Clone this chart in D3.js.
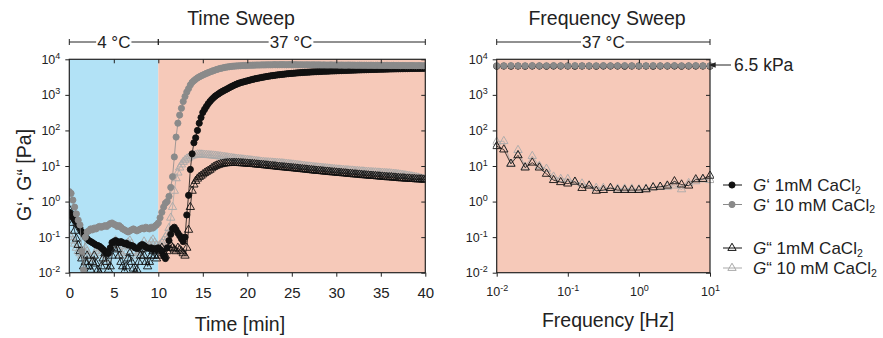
<!DOCTYPE html>
<html>
<head>
<meta charset="utf-8">
<script src="https://cdn.jsdelivr.net/npm/d3@7"></script>
<style>
  body { margin: 0; background: #fff; }
  svg { font-family: "Liberation Sans", Arial, Helvetica, sans-serif; }
</style>
</head>
<body>
<div id="chart"></div>
<script>
// ---- data: time sweep, one sample every 0.2 min from 0 to 40 min
const timeStep = 0.2;
const gp1mM = [
  0.5, 0.42, 0.35, 0.3, 0.26, 0.22, 0.18, 0.14, 0.12, 0.1,
  0.09, 0.08, 0.075, 0.07, 0.065, 0.06, 0.058, 0.055, 0.05, 0.045,
  0.04, 0.035, 0.035, 0.05, 0.07, 0.075, 0.08, 0.075, 0.07, 0.075,
  0.07, 0.065, 0.068, 0.06, 0.06, 0.058, 0.055, 0.05, 0.048, 0.05,
  0.058, 0.062, 0.058, 0.052, 0.05, 0.048, 0.05, 0.045, 0.048, 0.045,
  0.05, 0.045, 0.04, 0.03, 0.025, 0.05, 0.08, 0.12, 0.17, 0.19,
  0.16, 0.13, 0.11, 0.09, 0.075, 0.1, 0.42, 1.5, 8, 22,
  45, 62, 100, 160, 230, 320, 390, 470, 560, 650,
  740, 830, 920, 1000, 1080, 1170, 1250, 1330, 1410, 1500,
  1600, 1700, 1800, 1900, 2000, 2100, 2180, 2260, 2330, 2400,
  2480, 2560, 2640, 2720, 2800, 2870, 2940, 3010, 3080, 3150,
  3220, 3290, 3350, 3410, 3470, 3530, 3590, 3640, 3690, 3740,
  3790, 3840, 3890, 3940, 3980, 4020, 4060, 4100, 4140, 4180,
  4220, 4260, 4290, 4320, 4350, 4380, 4410, 4440, 4470, 4500,
  4530, 4560, 4590, 4610, 4630, 4650, 4670, 4690, 4710, 4730,
  4750, 4780, 4800, 4820, 4850, 4870, 4890, 4910, 4930, 4950,
  4970, 4990, 5010, 5030, 5050, 5070, 5090, 5110, 5130, 5150,
  5170, 5190, 5200, 5220, 5240, 5260, 5270, 5290, 5310, 5320,
  5340, 5350, 5370, 5380, 5400, 5410, 5430, 5440, 5450, 5470,
  5480, 5490, 5500, 5520, 5530, 5540, 5550, 5560, 5570, 5580,
  5600
];
const gp10mM = [
  1.9, 1.7, 1.1, 0.7, 0.45, 0.3, 0.22, 0.04, 0.012, 0.1,
  0.14, 0.15, 0.17, 0.16, 0.18, 0.17, 0.19, 0.2, 0.19, 0.2,
  0.21, 0.2, 0.22, 0.24, 0.25, 0.23, 0.22, 0.2, 0.21, 0.19,
  0.17, 0.16, 0.15, 0.14, 0.15, 0.16, 0.17, 0.16, 0.15, 0.16,
  0.17, 0.18, 0.17, 0.19, 0.18, 0.17, 0.19, 0.18, 0.2, 0.22,
  0.25, 0.35, 0.5, 0.7, 0.9, 1.0, 1.4, 2.5, 5, 18,
  65, 160, 270, 420, 650, 900, 1200, 1500, 1900, 2250,
  2500, 2750, 3000, 3200, 3400, 3600, 3800, 4000, 4200, 4400,
  4600, 4800, 5000, 5200, 5400, 5550, 5700, 5850, 6000, 6100,
  6200, 6300, 6400, 6450, 6500, 6550, 6600, 6650, 6700, 6700,
  6750, 6800, 6800, 6850, 6850, 6900, 6900, 6900, 6950, 6950,
  6950, 7000, 7000, 7000, 7000, 7050, 7050, 7000, 7050, 7050,
  7050, 7050, 7000, 7050, 7050, 7000, 7000, 7050, 7000, 7000,
  7000, 7000, 6950, 7000, 7000, 6950, 6950, 7000, 6950, 6950,
  6950, 6950, 6900, 6950, 6900, 6900, 6900, 6950, 6900, 6900,
  6900, 6900, 6850, 6900, 6850, 6850, 6850, 6900, 6850, 6850,
  6850, 6800, 6800, 6850, 6800, 6800, 6800, 6800, 6750, 6800,
  6800, 6750, 6750, 6800, 6750, 6750, 6750, 6700, 6750, 6750,
  6700, 6700, 6750, 6700, 6700, 6700, 6650, 6700, 6700, 6650,
  6650, 6650, 6700, 6650, 6650, 6600, 6650, 6650, 6600, 6600,
  6600
];
const gpp1mM = [
  0.6, 0.4, 0.25, 0.15, 0.09, 0.06, 0.04, 0.025, 0.015, 0.02,
  0.03, 0.015, 0.012, 0.02, 0.03, 0.018, 0.012, 0.01, 0.015, 0.025,
  0.035, 0.02, 0.012, 0.015, 0.03, 0.05, 0.07, 0.045, 0.03, 0.02,
  0.015, 0.011, 0.015, 0.025, 0.035, 0.02, 0.013, 0.01, 0.012, 0.02,
  0.03, 0.045, 0.03, 0.02, 0.015, 0.02, 0.03, 0.04, 0.03, 0.025,
  0.03, 0.04, 0.05, 0.035, 0.03, 0.04, 0.05, 0.06, 0.05, 0.045,
  0.04, 0.05, 0.045, 0.04, 0.035, 0.03, 0.05, 0.16, 0.7, 2.0,
  3.0, 3.8, 4.4, 4.9, 5.3, 5.8, 6.3, 6.8, 7.3, 7.8,
  8.6, 9.3, 9.9, 10.4, 10.8, 11.2, 11.5, 11.7, 11.9, 12.0,
  12.1, 12.1, 12.2, 12.2, 12.1, 12.1, 12.0, 11.9, 11.8, 11.7,
  11.6, 11.5, 11.4, 11.3, 11.2, 11.0, 10.9, 10.8, 10.7, 10.6,
  10.4, 10.3, 10.2, 10.0, 9.9, 9.8, 9.7, 9.5, 9.4, 9.3,
  9.2, 9.1, 9.0, 8.9, 8.8, 8.7, 8.6, 8.5, 8.4, 8.3,
  8.2, 8.1, 8.0, 7.9, 7.8, 7.7, 7.6, 7.5, 7.4, 7.3,
  7.3, 7.2, 7.1, 7.0, 6.9, 6.9, 6.8, 6.7, 6.6, 6.6,
  6.5, 6.4, 6.4, 6.3, 6.2, 6.2, 6.1, 6.0, 6.0, 5.9,
  5.8, 5.8, 5.7, 5.7, 5.6, 5.5, 5.5, 5.4, 5.4, 5.3,
  5.3, 5.2, 5.2, 5.1, 5.1, 5.0, 5.0, 4.9, 4.9, 4.8,
  4.8, 4.8, 4.7, 4.7, 4.6, 4.6, 4.5, 4.5, 4.5, 4.4,
  4.4, 4.4, 4.3, 4.3, 4.3, 4.2, 4.2, 4.2, 4.2, 4.1,
  4.1
];
const gpp10mM = [
  0.12, 0.1, 0.08, 0.065, 0.05, 0.04, 0.035, 0.03, 0.04, 0.05,
  0.04, 0.03, 0.025, 0.02, 0.03, 0.04, 0.05, 0.045, 0.035, 0.025,
  0.02, 0.025, 0.035, 0.05, 0.06, 0.07, 0.08, 0.06, 0.045, 0.035,
  0.03, 0.04, 0.055, 0.07, 0.08, 0.065, 0.05, 0.04, 0.03, 0.035,
  0.045, 0.06, 0.075, 0.06, 0.05, 0.06, 0.075, 0.085, 0.07, 0.06,
  0.055, 0.06, 0.07, 0.08, 0.1, 0.12, 0.18, 0.35, 0.7, 2.0,
  4.5, 6.5, 9.0, 11, 13, 14.5, 16, 17, 18.5, 19.5,
  20, 20.5, 21, 21, 21, 20.8, 20.6, 20.4, 20.2, 20,
  19.8, 19.6, 19.4, 19.1, 18.8, 18.5, 18.2, 17.9, 17.6, 17.3,
  17.0, 16.7, 16.4, 16.1, 15.9, 15.7, 15.5, 15.3, 15.1, 14.9,
  14.7, 14.5, 14.3, 14.1, 13.9, 13.7, 13.5, 13.3, 13.1, 12.9,
  12.8, 12.7, 12.6, 12.5, 12.4, 12.3, 12.2, 12.1, 12.0, 11.9,
  11.8, 11.6, 11.5, 11.3, 11.2, 11.0, 10.9, 10.7, 10.6, 10.4,
  10.3, 10.1, 10.0, 9.8, 9.7, 9.6, 9.5, 9.3, 9.2, 9.1,
  9.0, 8.9, 8.8, 8.7, 8.6, 8.5, 8.4, 8.3, 8.2, 8.1,
  8.0, 7.9, 7.9, 7.8, 7.7, 7.6, 7.6, 7.5, 7.4, 7.4,
  7.3, 7.2, 7.2, 7.1, 7.0, 7.0, 6.9, 6.8, 6.8, 6.7,
  6.7, 6.6, 6.6, 6.5, 6.5, 6.4, 6.4, 6.3, 6.3, 6.2,
  6.2, 6.1, 6.0, 6.0, 5.9, 5.8, 5.7, 5.6, 5.5, 5.4,
  5.3, 5.2, 5.1, 5.0, 4.9, 4.8, 4.7, 4.5, 4.4, 4.3,
  4.2
];

// ---- data: frequency sweep, 10 points per decade from 0.01 to 10 Hz
const freqHz = d3.range(31).map(i => Math.pow(10, -2 + i / 10));
const fGp1mM = [
  6400, 6450, 6400, 6450, 6400, 6450, 6450, 6400, 6450, 6450,
  6450, 6400, 6450, 6450, 6400, 6450, 6450, 6450, 6400, 6450,
  6450, 6450, 6400, 6450, 6450, 6450, 6400, 6450, 6450, 6450, 6400
];
const fGp10mM = [
  6600, 6600, 6650, 6600, 6600, 6650, 6600, 6600, 6650, 6600,
  6600, 6650, 6600, 6600, 6600, 6650, 6600, 6600, 6650, 6600,
  6600, 6600, 6650, 6600, 6600, 6650, 6600, 6600, 6650, 6600, 6600
];
const fGpp1mM = [
  36, 29, 11.5, 20, 9, 12.4, 9, 6, 4, 3.5,
  3.2, 3.6, 2.4, 2.8, 2.0, 2.1, 2.4, 2.1, 2.1, 2.1,
  2.1, 2.2, 2.5, 2.6, 2.8, 3.7, 3.0, 2.8, 4.2, 4.3, 5.3
];
const fGpp10mM = [
  48, 50, 11.5, 28, 9.5, 19, 10, 8.3, 5, 4.3,
  4.3, 3.6, 3.2, 2.8, 2.4, 2.4, 2.4, 2.3, 2.3, 2.3,
  2.2, 2.3, 2.5, 2.6, 2.6, 2.8, 2.2, 3.3, 3.7, 4.2, 4.0
];

const timeTicks = [0, 5, 10, 15, 20, 25, 30, 35, 40];
const decadeTicks = [1e-2, 1e-1, 1e0, 1e1, 1e2, 1e3, 1e4];
const freqTicks = [1e-2, 1e-1, 1e0, 1e1];
const legendLabels = [
  { pre: "G", mark: "\u2018", rest: " 1mM CaCl" },
  { pre: "G", mark: "\u2018", rest: " 10 mM CaCl" },
  { pre: "G", mark: "\u201C", rest: " 1mM CaCl" },
  { pre: "G", mark: "\u201C", rest: " 10 mM CaCl" }
];

// ---- styles
const black = "#111", gray = "#8a8a8a", lightGray = "#a9a9a9";
const blueBg = "#b2e2f6", salmonBg = "#f6c9b9";
const width = 883, height = 338;
const plotTop = 59.3, plotBottom = 272.7;

const svg = d3.select("#chart").append("svg")
  .attr("width", width).attr("height", height);

const yScale = d3.scaleLog().domain([1e-2, 1e4]).range([plotBottom, plotTop]);
const xTime = d3.scaleLinear().domain([0, 40]).range([69.3, 425.3]);
const xFreq = d3.scaleLog().domain([1e-2, 10]).range([496.7, 710]);

const circle = d3.symbol().type(d3.symbolCircle).size(30);
const triangle = d3.symbol().type(d3.symbolTriangle).size(30);

function supText(sel, size, supSize, shift) {
  sel.each(function(d) {
    const t = d3.select(this).text(null).attr("font-size", size);
    t.append("tspan").text("10");
    t.append("tspan").attr("dy", shift).attr("font-size", supSize)
      .text(String(Math.round(Math.log10(d))));
  });
}

function clean(g) {
  g.select(".domain").remove();
  g.selectAll(".tick line").attr("stroke", "#222");
  g.selectAll(".tick text").attr("fill", "#222");
  g.attr("font-family", null);
}

function drawSeries(g, xs, xVals, yVals, sym, stroke, fill) {
  const pts = xVals.map((x, i) => [x, yVals[i]]);
  g.append("path").datum(pts)
    .attr("fill", "none").attr("stroke", stroke).attr("stroke-width", 0.8)
    .attr("d", d3.line().x(d => xs(d[0])).y(d => yScale(d[1])));
  g.append("g").selectAll("path").data(pts).enter().append("path")
    .attr("transform", d => "translate(" + xs(d[0]) + "," + yScale(d[1]) + ")")
    .attr("d", sym)
    .attr("fill", fill).attr("stroke", stroke).attr("stroke-width", 0.9);
}

function bracket(x0, x1, label, cx) {
  const y = 42;
  const g = svg.append("g");
  g.append("line").attr("x1", x0).attr("x2", x1).attr("y1", y).attr("y2", y)
    .attr("stroke", "#222").attr("stroke-width", 1);
  [x0, x1].forEach(x => g.append("line").attr("x1", x).attr("x2", x)
    .attr("y1", y - 3).attr("y2", y + 3).attr("stroke", "#222").attr("stroke-width", 1));
  const bg = g.append("rect").attr("fill", "#fff");
  const t = g.append("text").attr("x", cx).attr("y", y + 6)
    .attr("text-anchor", "middle").attr("font-size", 17).attr("fill", "#222").text(label);
  const w = t.node().getComputedTextLength();
  bg.attr("x", cx - w / 2 - 1).attr("y", y - 2).attr("width", w + 2).attr("height", 4);
}

function frame(x0, x1, id) {
  svg.append("clipPath").attr("id", id).append("rect")
    .attr("x", x0).attr("y", plotTop).attr("width", x1 - x0).attr("height", plotBottom - plotTop);
}

// ================= Time sweep =================
svg.append("rect").attr("x", xTime(0)).attr("y", plotTop)
  .attr("width", xTime(10) - xTime(0)).attr("height", plotBottom - plotTop).attr("fill", blueBg);
svg.append("rect").attr("x", xTime(10)).attr("y", plotTop)
  .attr("width", xTime(40) - xTime(10)).attr("height", plotBottom - plotTop).attr("fill", salmonBg);

frame(xTime(0), xTime(40), "clipT");
const timeVals = gp1mM.map((d, i) => i * timeStep);
const dT = svg.append("g").attr("clip-path", "url(#clipT)");
drawSeries(dT, xTime, timeVals, gpp10mM, triangle, lightGray, "none");
drawSeries(dT, xTime, timeVals, gpp1mM, triangle, black, "none");
drawSeries(dT, xTime, timeVals, gp1mM, circle, black, black);
drawSeries(dT, xTime, timeVals, gp10mM, circle, gray, gray);

svg.append("rect").attr("x", xTime(0)).attr("y", plotTop)
  .attr("width", xTime(40) - xTime(0)).attr("height", plotBottom - plotTop)
  .attr("fill", "none").attr("stroke", "#222").attr("stroke-width", 1.2);

svg.append("g").attr("transform", "translate(0," + plotBottom + ")")
  .call(d3.axisBottom(xTime).tickValues(timeTicks).tickSize(4).tickPadding(11))
  .call(clean).selectAll(".tick text").attr("font-size", 15);
svg.append("g").attr("transform", "translate(0," + plotTop + ")")
  .call(d3.axisTop(xTime).tickValues(timeTicks.slice(1, -1)).tickSize(-4).tickFormat(""))
  .call(clean);
svg.append("g").attr("transform", "translate(" + xTime(0) + ",0)")
  .call(d3.axisLeft(yScale).tickValues(decadeTicks).tickSize(4).tickPadding(5))
  .call(clean).selectAll(".tick text").call(supText, 12.5, 9, -5);
svg.append("g").attr("transform", "translate(" + xTime(40) + ",0)")
  .call(d3.axisRight(yScale).tickValues(decadeTicks).tickSize(-4).tickFormat(""))
  .call(clean);

svg.append("text").attr("x", 241).attr("y", 25).attr("text-anchor", "middle")
  .attr("font-size", 19.5).attr("fill", "#222").text("Time Sweep");
svg.append("text").attr("x", 240).attr("y", 331).attr("text-anchor", "middle")
  .attr("font-size", 19.5).attr("fill", "#222").text("Time [min]");
svg.append("text").attr("transform", "translate(31,175) rotate(-90)")
  .attr("text-anchor", "middle").attr("font-size", 19.5).attr("fill", "#222")
  .text("G\u2018, G\u201C [Pa]");

bracket(xTime(0), xTime(10), "4 \u00B0C", (xTime(0) + xTime(10)) / 2);
bracket(xTime(10), xTime(40), "37 \u00B0C", 291);

// ================= Frequency sweep =================
svg.append("rect").attr("x", xFreq(1e-2)).attr("y", plotTop)
  .attr("width", xFreq(10) - xFreq(1e-2)).attr("height", plotBottom - plotTop).attr("fill", salmonBg);

frame(xFreq(1e-2) - 4, xFreq(10) + 4, "clipF");
const dF = svg.append("g").attr("clip-path", "url(#clipF)");
drawSeries(dF, xFreq, freqHz, fGpp10mM, triangle, lightGray, "none");
drawSeries(dF, xFreq, freqHz, fGpp1mM, triangle, black, "none");
drawSeries(dF, xFreq, freqHz, fGp1mM, circle, black, black);
drawSeries(dF, xFreq, freqHz, fGp10mM, circle, gray, gray);

svg.append("rect").attr("x", xFreq(1e-2)).attr("y", plotTop)
  .attr("width", xFreq(10) - xFreq(1e-2)).attr("height", plotBottom - plotTop)
  .attr("fill", "none").attr("stroke", "#222").attr("stroke-width", 1.2);

svg.append("g").attr("transform", "translate(0," + plotBottom + ")")
  .call(d3.axisBottom(xFreq).tickValues(freqTicks).tickSize(4).tickPadding(10))
  .call(clean).selectAll(".tick text").call(supText, 12.5, 9, -5);
svg.append("g").attr("transform", "translate(0," + plotTop + ")")
  .call(d3.axisTop(xFreq).tickValues(freqTicks.slice(1, -1)).tickSize(-4).tickFormat(""))
  .call(clean);
svg.append("g").attr("transform", "translate(" + xFreq(1e-2) + ",0)")
  .call(d3.axisLeft(yScale).tickValues(decadeTicks).tickSize(4).tickPadding(5))
  .call(clean).selectAll(".tick text").call(supText, 12.5, 9, -5);
svg.append("g").attr("transform", "translate(" + xFreq(10) + ",0)")
  .call(d3.axisRight(yScale).tickValues(decadeTicks).tickSize(-4).tickFormat(""))
  .call(clean);

svg.append("text").attr("x", 607).attr("y", 25).attr("text-anchor", "middle")
  .attr("font-size", 19.5).attr("fill", "#222").text("Frequency Sweep");
svg.append("text").attr("x", 608).attr("y", 327).attr("text-anchor", "middle")
  .attr("font-size", 19.5).attr("fill", "#222").text("Frequency [Hz]");

bracket(xFreq(1e-2), xFreq(10), "37 \u00B0C", (xFreq(1e-2) + xFreq(10)) / 2);

// 6.5 kPa arrow
svg.append("defs").append("marker").attr("id", "arrow")
  .attr("viewBox", "0 0 10 10").attr("refX", 1).attr("refY", 5)
  .attr("markerWidth", 7).attr("markerHeight", 7).attr("orient", "auto-start-reverse")
  .append("path").attr("d", "M0,1 L10,5 L0,9 Z").attr("fill", "#222");
svg.append("line").attr("x1", 731).attr("x2", 715).attr("y1", 65).attr("y2", 65)
  .attr("stroke", "#222").attr("stroke-width", 1).attr("marker-end", "url(#arrow)");
svg.append("text").attr("x", 734).attr("y", 71).attr("font-size", 17.5)
  .attr("fill", "#222").text("6.5 kPa");

// ================= Legend =================
const legendRows = [185, 204.5, 248, 268];
const legendStyle = [
  { sym: circle, stroke: black, fill: black },
  { sym: circle, stroke: gray, fill: gray },
  { sym: triangle, stroke: black, fill: "none" },
  { sym: triangle, stroke: lightGray, fill: "none" }
];
legendRows.forEach((y, i) => {
  const s = legendStyle[i];
  const g = svg.append("g");
  g.append("line").attr("x1", 723).attr("x2", 742).attr("y1", y).attr("y2", y)
    .attr("stroke", s.stroke).attr("stroke-width", 1);
  g.append("path").attr("transform", "translate(732," + y + ")").attr("d", s.sym)
    .attr("fill", s.fill).attr("stroke", s.stroke).attr("stroke-width", 1);
  const t = g.append("text").attr("x", 753).attr("y", y + 6)
    .attr("font-size", 17).attr("fill", "#222");
  t.append("tspan").attr("font-style", "italic").text(legendLabels[i].pre);
  t.append("tspan").text(legendLabels[i].mark + legendLabels[i].rest);
  t.append("tspan").attr("dy", 2.5).attr("font-size", 10.5).text("2");
});
</script>
</body>
</html>
